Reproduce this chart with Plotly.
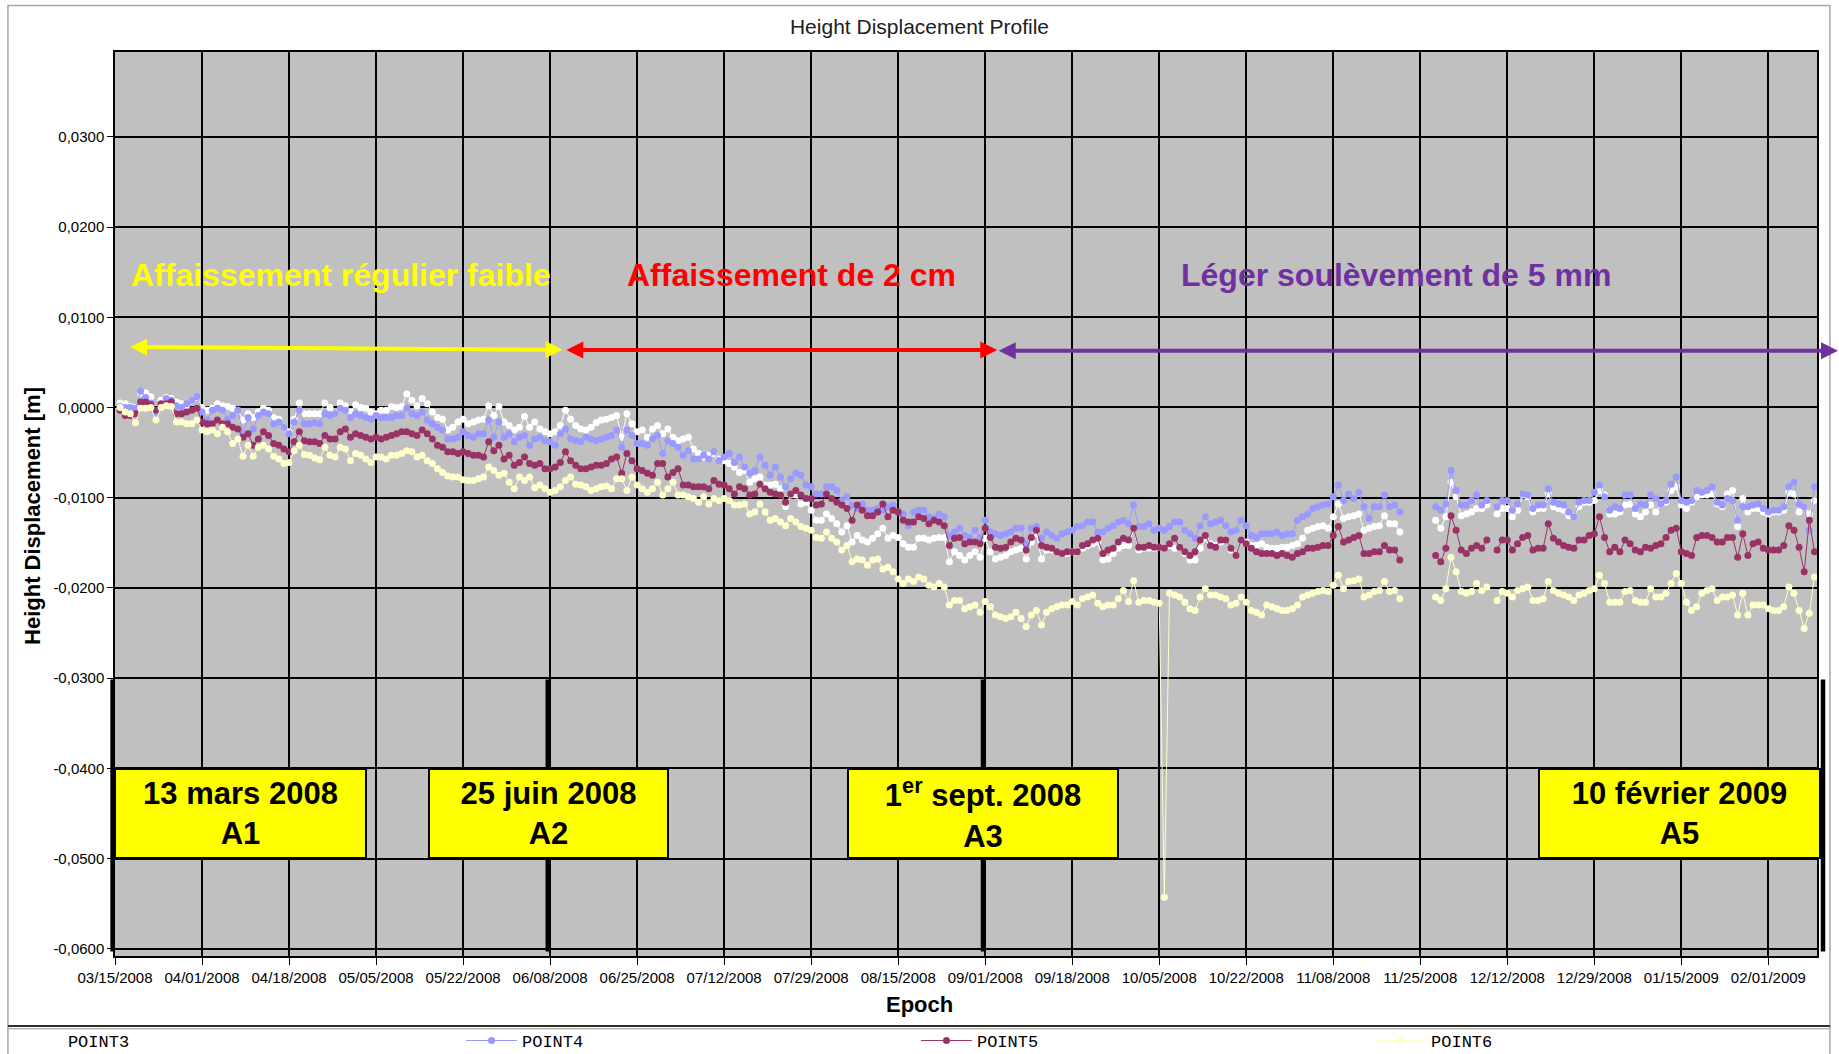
import pandas as pd
import plotly.graph_objects as go

START = pd.Timestamp("2008-03-15")
AXIS_END = pd.Timestamp("2009-02-10 12:00")
AXIS_DAYS = (AXIS_END - START) / pd.Timedelta(days=1)

# Daily epochs, day 1 = 2008-03-16 ... day 332 = 2009-02-10
N_DAYS = 332
GAP_NOV = [None] * 6   # 2008-11-22 .. 2008-11-27: no solution
GAP_DEC = [None]       # 2008-12-08: no solution

# Height displacement in millimetres
POINT3_MM = [
    0.5, 0.4, 0.1, 0.0, 1.6, 1.6, 1.2, -0.7, 0.8, 1.1,
    1.0, 0.6, 0.4, 0.2, 0.8, 1.1, 0.0, -0.3, -0.1, 0.4,
    0.2, 0.1, -0.1, -0.3, -1.4, -0.7, -1.1, -0.5, -0.1, -0.3,
    -1.1, -1.3, -2.2, -2.7, -1.3, 0.5, -0.7, -0.7, -0.7, -0.7,
    0.5, 0.0, -0.7, 0.5, 0.2, -0.5, 0.3, 0.0, -0.1, -0.5,
    -0.7, -0.3, -0.3, 0.1, 0.0, 0.1, 1.5, 0.8, 0.2, 1.0,
    0.4, -0.5, -1.1, -1.3, -2.5, -2.2, -1.6, -1.3, -1.8, -1.6,
    -1.4, -1.3, 0.2, -0.9, 0.1, -1.6, -2.0, -2.5, -2.2, -1.0,
    -2.2, -1.6, -2.4, -2.7, -2.9, -2.7, -2.0, -0.3, -1.3, -2.0,
    -2.4, -2.5, -2.2, -1.7, -1.4, -1.3, -1.1, -0.9, -3.3, -0.7,
    -1.8,
    -2.7, -2.5, -3.3, -2.4, -2.0, -2.9, -2.4, -3.3, -3.7, -3.5,
    -3.3, -4.6, -5.1, -5.5, -5.3, -5.1, -5.7, -5.9, -6.2, -6.6,
    -7.2, -7.0, -8.3, -7.9, -7.7, -8.6, -8.6, -8.5, -9.0, -11.0,
    -9.7, -9.7, -10.7, -10.5, -11.4, -12.5, -12.5, -11.8, -12.3, -12.9,
    -13.8, -13.1, -14.9, -14.2, -14.7, -14.9, -14.5, -14.0, -13.4, -14.5,
    -14.2, -14.4, -15.1, -15.5, -15.5, -14.5, -14.5, -14.7, -14.5, -14.4,
    -14.4, -17.1, -16.0, -16.4, -16.9, -16.4, -16.0, -16.6, -14.5, -16.0,
    -16.8, -16.6, -16.4, -16.0, -15.8, -15.6, -16.8, -14.9, -14.0, -16.8,
    -15.8, -15.8,
    -16.0, -16.2, -16.2, -16.0, -16.0, -15.6, -15.3, -15.1, -14.9, -16.9,
    -16.8, -16.2, -15.6, -15.3, -15.3, -13.4,
    -15.8, -15.6, -15.6, -15.6, -15.5, -15.6, -15.3, -15.6, -15.5, -16.2,
    -16.9, -16.9, -15.6, -14.5, -15.1, -15.3, -14.9, -14.7, -15.8, -16.4,
    -14.7, -14.9, -15.3, -15.3, -15.1, -15.5, -15.6, -15.6, -15.5, -15.5,
    -15.3, -15.1, -14.5, -13.6, -13.4, -13.2, -13.1, -13.4, -12.1, -10.7,
    -12.3, -12.1, -12.0, -11.8, -13.6, -13.4, -13.2, -13.1, -12.0, -12.9,
    -12.9, -13.8,
] + GAP_NOV + [
    -12.5, -13.4, -12.1, -8.3, -9.9, -12.0, -11.8, -11.6, -11.2, -11.2, -10.8,
] + GAP_DEC + [
    -11.8, -11.2, -11.2, -12.1, -11.4, -9.7, -9.9, -11.6, -11.2, -11.2,
    -9.6, -11.0, -11.2, -11.4, -12.0, -12.1, -11.0, -10.5, -10.5, -10.3,
    -9.2, -9.7, -11.8, -11.8, -11.6, -10.8, -10.7, -11.8, -12.1, -11.6,
    -10.8,
    -11.6, -10.7, -10.5, -9.2, -8.8, -10.8, -11.2, -10.5, -9.9, -9.7,
    -9.7, -9.6, -10.7, -11.0, -9.6, -9.2, -13.2, -10.1, -11.6, -11.2,
    -11.2, -11.6, -11.8, -11.6, -11.6, -11.4, -9.4, -9.6, -11.6, -11.0,
    -11.8, -10.3,
]

POINT4_MM = [
    0.1, 0.0, 0.0, -0.1, 1.8, 1.1, 0.5, -0.7, 0.3, 1.0,
    0.8, 0.2, 0.0, 0.4, 0.8, 1.2, -0.5, -1.4, -0.3, -0.1,
    -0.3, -1.3, -0.9, -0.3, -2.9, -1.1, -2.4, -0.9, -0.5, -0.7,
    -1.8, -1.6, -2.2, -2.9, -1.6, -0.3, -1.8, -1.8, -1.7, -1.8,
    -0.7, -0.9, -0.7, -0.1, -0.3, -1.1, -0.7, -0.9, -1.1, -1.3,
    -0.9, -1.1, -1.1, -1.1, -0.9, -0.9, -0.1, -0.7, -0.9, -0.5,
    -1.4, -1.8, -2.2, -2.5, -3.5, -3.5, -3.3, -2.7, -3.1, -3.3,
    -2.9, -2.9, -1.4, -3.3, -1.6, -3.3, -2.9, -3.8, -3.3, -3.1,
    -4.2, -3.5, -3.3, -3.7, -3.8, -4.2, -2.9, -2.4, -3.5, -3.7,
    -3.8, -3.3, -3.5, -3.7, -3.5, -3.3, -3.1, -2.5, -4.4, -2.5,
    -3.1,
    -4.0, -4.0, -4.2, -3.5, -3.1, -5.1, -3.7, -4.0, -4.4, -5.3,
    -4.8, -5.7, -5.7, -5.3, -5.7, -4.9, -5.9, -5.5, -5.1, -6.1,
    -5.5, -6.6, -7.3, -7.0, -5.5, -6.4, -7.5, -6.6, -7.7, -8.8,
    -7.9, -7.3, -7.5, -8.6, -8.8, -9.6, -9.6, -8.8, -8.8, -9.2,
    -10.3, -9.9, -10.8, -11.2, -10.7, -11.4, -11.4, -11.2, -11.4, -11.0,
    -10.8, -11.6, -11.8, -13.1, -11.6, -11.4, -11.4, -12.1, -12.3, -11.8,
    -12.1, -14.2, -13.8, -13.4, -14.2, -14.4, -13.6, -14.4, -12.5, -13.8,
    -14.0, -14.2, -14.0, -13.8, -13.4, -13.4, -15.1, -13.4, -13.2, -14.5,
    -13.8, -14.2,
    -14.5, -14.0, -13.8, -13.6, -13.2, -13.1, -12.7, -12.7, -13.8, -13.8,
    -13.4, -13.1, -12.7, -12.5, -12.9, -10.8,
    -13.2, -13.2, -12.9, -13.6, -13.4, -13.6, -13.2, -12.7, -12.7, -13.6,
    -14.0, -14.5, -13.1, -12.1, -12.9, -12.7, -12.5, -13.1, -13.8, -13.6,
    -12.5, -13.1, -14.2, -14.4, -14.0, -14.0, -14.0, -13.8, -14.2, -14.0,
    -14.0, -12.5, -12.1, -11.8, -11.2, -11.0, -10.8, -10.7, -9.9, -8.6,
    -10.3, -9.6, -10.1, -9.4, -11.0, -12.3, -11.0, -11.0, -9.7, -11.0,
    -10.8, -11.6,
] + GAP_NOV + [
    -11.0, -11.4, -10.7, -7.0, -9.2, -10.8, -10.8, -10.3, -9.7, -10.8, -10.3,
] + GAP_DEC + [
    -11.0, -10.3, -10.3, -11.4, -10.7, -9.6, -9.7, -11.2, -10.8, -10.8,
    -9.0, -10.5, -10.7, -10.8, -11.6, -12.1, -10.5, -10.3, -10.3, -9.4,
    -8.6, -9.9, -11.4, -11.0, -11.2, -9.7, -9.7, -11.2, -10.7, -10.8,
    -9.7,
    -10.1, -10.7, -10.3, -8.5, -7.7, -10.3, -10.5, -10.3, -9.2, -9.4,
    -9.2, -8.8, -10.5, -10.8, -10.1, -10.3, -12.5, -11.0, -11.0, -10.8,
    -10.7, -11.2, -11.6, -11.4, -11.4, -11.0, -8.8, -8.3, -10.7, -11.0,
    -13.6, -8.8,
]

POINT5_MM = [
    -0.3, -0.9, -0.9, -0.7, 0.6, 0.6, 0.3, -0.3, 0.4, 0.4,
    0.6, -0.7, -0.7, -0.5, -0.3, -0.1, -1.6, -1.8, -1.8, -1.4,
    -1.8, -1.8, -2.2, -2.4, -3.3, -2.9, -4.2, -3.5, -2.7, -3.1,
    -4.0, -4.2, -4.6, -4.9, -3.8, -2.7, -3.7, -3.8, -3.8, -4.0,
    -3.1, -3.5, -3.5, -2.7, -2.4, -3.3, -2.9, -3.1, -3.3, -3.5,
    -3.3, -3.5, -3.3, -3.1, -2.9, -2.7, -2.7, -2.9, -3.1, -2.5,
    -2.9, -3.5, -4.2, -4.4, -4.9, -4.9, -5.1, -4.9, -5.1, -5.3,
    -5.3, -5.5, -3.8, -4.8, -4.2, -5.7, -5.3, -6.4, -6.1, -5.5,
    -6.2, -6.4, -6.2, -6.8, -6.8, -6.6, -6.1, -4.9, -5.9, -6.4,
    -6.8, -6.8, -6.6, -6.4, -6.4, -6.2, -5.7, -5.5, -7.3, -5.1,
    -5.9,
    -6.8, -7.0, -7.3, -7.5, -6.2, -6.2, -7.7, -7.2, -6.8, -8.6,
    -8.6, -8.8, -8.8, -8.8, -9.0, -8.1, -8.5, -8.6, -9.0, -9.6,
    -8.8, -9.0, -9.7, -9.6, -8.5, -9.0, -9.4, -9.6, -9.7, -10.5,
    -9.6, -9.2, -9.7, -10.1, -10.1, -10.8, -10.7, -9.6, -10.1, -10.5,
    -10.8, -11.2, -12.5, -10.8, -11.4, -12.0, -12.0, -11.6, -10.7, -12.1,
    -11.4, -11.6, -12.5, -12.7, -12.7, -12.1, -12.3, -12.9, -12.5, -12.7,
    -13.1, -15.3, -14.5, -14.4, -15.1, -14.9, -14.9, -15.1, -13.4, -14.4,
    -15.5, -15.6, -15.5, -14.9, -14.5, -14.7, -15.8, -14.4, -13.6, -15.3,
    -15.5, -15.6,
    -16.0, -16.2, -16.0, -16.0, -16.0, -15.3, -15.1, -14.7, -14.5, -16.2,
    -15.8, -15.6, -14.9, -14.5, -14.7, -13.4,
    -15.5, -15.5, -15.3, -15.5, -15.5, -15.6, -15.1, -14.5, -15.5, -16.0,
    -16.4, -16.0, -14.7, -14.2, -15.3, -15.5, -14.7, -14.7, -15.6, -16.4,
    -14.7, -15.1, -15.6, -16.0, -16.2, -16.2, -16.2, -16.4, -16.2, -16.4,
    -16.6, -16.2, -16.0, -15.6, -15.6, -15.5, -15.3, -15.3, -14.2, -13.2,
    -14.9, -14.7, -14.4, -14.2, -16.2, -16.2, -16.0, -16.0, -15.3, -15.8,
    -15.8, -16.9,
] + GAP_NOV + [
    -16.4, -17.1, -15.6, -12.0, -13.6, -15.8, -16.2, -15.6, -15.3, -15.6, -14.7,
] + GAP_DEC + [
    -15.8, -14.7, -14.7, -15.8, -15.1, -14.4, -14.2, -15.8, -15.6, -15.6,
    -12.9, -14.5, -14.9, -15.3, -15.5, -15.6, -14.7, -14.7, -14.2, -14.0,
    -12.1, -14.4, -16.0, -15.5, -16.0, -14.7, -15.1, -15.8, -16.0, -15.5,
    -15.6,
    -15.3, -15.1, -14.4, -13.6, -13.4, -16.0, -16.2, -16.4, -14.4, -14.2,
    -14.2, -14.4, -14.9, -14.9, -14.4, -14.4, -16.6, -14.0, -16.4, -15.1,
    -14.9, -15.6, -15.8, -15.8, -15.8, -15.3, -13.1, -13.6, -15.5, -18.2,
    -12.5, -16.0,
]

POINT6_MM = [
    0.0, -0.5, -0.7, -1.7, -0.1, -0.1, 0.0, -1.4, 0.0, 0.2,
    0.1, -1.6, -1.6, -1.8, -1.8, -1.4, -2.5, -2.7, -2.5, -2.9,
    -2.2, -2.7, -4.0, -3.5, -5.4, -4.2, -5.4, -4.4, -4.2, -4.6,
    -5.4, -5.7, -6.2, -6.1, -4.8, -4.2, -5.2, -5.3, -5.6, -5.8,
    -4.4, -5.3, -5.5, -4.4, -4.6, -5.9, -5.1, -5.3, -5.7, -6.1,
    -5.5, -5.5, -5.7, -5.3, -5.3, -5.1, -4.8, -4.9, -5.5, -5.3,
    -5.9, -6.2, -6.8, -7.2, -7.6, -7.7, -7.7, -8.0, -8.1, -8.1,
    -7.9, -7.7, -6.6, -7.0, -7.5, -7.3, -8.3, -9.0, -7.7, -8.1,
    -7.7, -8.9, -8.6, -9.0, -9.4, -9.2, -8.8, -8.1, -7.7, -8.5,
    -8.6, -8.8, -9.2, -9.0, -8.8, -8.7, -9.0, -7.9, -7.9, -9.2,
    -7.7,
    -8.6, -9.0, -9.4, -9.0, -8.3, -9.7, -9.0, -8.3, -9.7, -9.7,
    -9.9, -10.1, -10.5, -9.9, -10.7, -10.1, -10.3, -10.1, -10.3, -10.8,
    -10.8, -10.7, -11.8, -11.6, -10.7, -11.6, -12.5, -12.3, -12.7, -13.1,
    -12.3, -12.7, -13.2, -13.4, -13.6, -14.4, -14.5, -13.8, -14.5, -14.9,
    -15.8, -15.3, -17.1, -16.8, -16.9, -17.5, -16.9, -16.8, -17.9, -17.7,
    -18.2, -19.0, -19.5, -19.0, -19.3, -18.8, -19.0, -19.7, -19.9, -19.5,
    -19.9, -21.9, -21.4, -21.4, -22.3, -22.1, -21.9, -22.7, -21.5, -22.1,
    -23.0, -23.2, -23.4, -23.2, -22.7, -23.4, -24.3, -23.0, -22.5, -24.1,
    -22.7, -22.3,
    -22.1, -21.9, -21.9, -21.5, -21.9, -21.2, -21.0, -20.8, -21.7, -22.1,
    -21.9, -21.9, -21.2, -20.3, -21.5, -19.2,
    -21.6, -21.4, -21.4, -21.6, -21.7, -54.3, -20.6, -20.8, -21.0, -21.6,
    -22.3, -22.5, -21.0, -20.1, -20.8, -20.8, -21.0, -21.2, -21.9, -21.7,
    -21.0, -21.6, -22.5, -22.7, -23.0, -21.9, -22.1, -22.3, -22.5, -22.5,
    -22.3, -21.9, -21.0, -20.8, -20.6, -20.4, -20.3, -20.4, -19.7, -18.6,
    -20.1, -19.3, -19.2, -19.0, -21.0, -20.8, -20.4, -20.3, -19.3, -20.4,
    -20.3, -21.2,
] + GAP_NOV + [
    -21.0, -21.4, -20.1, -16.6, -18.2, -20.4, -20.6, -20.4, -19.5, -20.3, -19.9,
] + GAP_DEC + [
    -21.4, -20.4, -20.6, -21.0, -20.3, -20.1, -19.9, -21.4, -21.4, -21.2,
    -19.3, -20.3, -20.6, -20.8, -21.0, -21.4, -20.8, -20.6, -20.3, -20.1,
    -18.6, -19.5, -21.6, -21.6, -21.6, -20.4, -20.3, -21.4, -21.6, -21.6,
    -20.1,
    -21.0, -21.0, -20.6, -19.5, -18.4, -19.5, -21.6, -22.5, -22.1, -20.6,
    -20.3, -20.1, -21.4, -21.0, -21.0, -20.8, -23.0, -20.6, -23.0, -21.9,
    -21.9, -21.9, -22.3, -22.5, -22.5, -22.1, -19.9, -20.6, -22.5, -24.5,
    -22.8, -18.8,
]

# name, values, colour, legend slot position (fraction of plot width)
SERIES = [
    ("POINT3", POINT3_MM, "#FFFFFF", -0.0635),
    ("POINT4", POINT4_MM, "#9999FF", 0.2033),
    ("POINT5", POINT5_MM, "#993366", 0.4706),
    ("POINT6", POINT6_MM, "#FFFFCC", 0.7374),
]

Y_TICK_VALUES = [0.03, 0.02, 0.01, 0.0, -0.01, -0.02, -0.03, -0.04, -0.05, -0.06]
Y_TICK_LABELS = ["0,0300", "0,0200", "0,0100", "0,0000", "-0,0100", "-0,0200",
                 "-0,0300", "-0,0400", "-0,0500", "-0,0600"]

# Period headings: text, colour, centre day, arrow start/end day, arrow y start/end
PERIODS = [
    ("Affaissement régulier faible", "#FFFF00", 44.2, 2.66, 87.44, 0.0067, 0.0064),
    ("Affaissement de 2 cm", "#FF0000", 132.1, 87.87, 172.35, 0.00637, 0.00637),
    ("Léger soulèvement de 5 mm", "#7030A0", 250.3, 172.35, 336.6, 0.0063, 0.0063),
]
PERIOD_TEXT_Y = 0.0147

# Acquisition milestones: label, box centre day, box width (px), bar day
MILESTONES = [
    ("13 mars 2008<br>A1", 24.6, 252, -0.47),
    ("25 juin 2008<br>A2", 84.6, 240, 84.55),
    ("1<sup>er</sup> sept. 2008<br>A3", 169.5, 271, 169.57),
    ("10 février 2009<br>A5", 305.6, 282, 333.67),
]


def day(d):
    return START + pd.Timedelta(days=d)


dates = [day(d) for d in range(1, N_DAYS + 1)]

SANS = "Liberation Sans, Arial, sans-serif"
MONO = "Liberation Mono, Courier New, monospace"

fig = go.Figure()
legend_layouts = {}
for i, (name, values, color, legend_x) in enumerate(SERIES):
    legend_id = "legend" if i == 0 else f"legend{i + 1}"
    fig.add_trace(go.Scatter(
        x=dates,
        y=[None if v is None else v / 1000.0 for v in values],
        name=name,
        mode="lines+markers",
        line=dict(color=color, width=1),
        marker=dict(color=color, size=7),
        connectgaps=False,
        legend=legend_id,
    ))
    legend_layouts[legend_id] = dict(
        orientation="h", x=legend_x, xanchor="left", y=-0.094, yanchor="middle",
        itemwidth=51, bgcolor="rgba(0,0,0,0)", itemclick=False,
        font=dict(family=MONO, size=17, color="black"),
    )

# Period headings with double-headed arrows
for text, color, xc, xa, xb, ya, yb in PERIODS:
    fig.add_annotation(
        x=day(xc), y=PERIOD_TEXT_Y, xref="x", yref="y", text=f"<b>{text}</b>",
        showarrow=False, font=dict(family=SANS, size=32, color=color),
    )
    fig.add_annotation(
        x=day(xb), y=yb, ax=day(xa), ay=ya, xref="x", yref="y", axref="x", ayref="y",
        text="", showarrow=True, arrowside="end+start",
        arrowhead=2, startarrowhead=2, arrowsize=0.85, startarrowsize=0.85,
        arrowwidth=4, arrowcolor=color, standoff=0, startstandoff=0,
    )

# Milestone bars (placed as a fraction of the date axis so edge bars stay visible)
for label, xc, w, xbar in MILESTONES:
    fig.add_annotation(
        x=xbar / AXIS_DAYS, y=-0.0603, xref="paper", yref="y",
        ax=0, ay=-0.030, axref="pixel", ayref="y",
        text="", showarrow=True, arrowhead=0, arrowwidth=4.5, arrowcolor="black",
        standoff=0,
    )
for label, xc, w, xbar in MILESTONES:
    fig.add_annotation(
        x=day(xc), y=-0.045, xref="x", yref="y", text=f"<b>{label}</b>",
        showarrow=False, width=w - 3, height=87, borderpad=0,
        bgcolor="#FFFF00", bordercolor="black", borderwidth=2,
        align="center", valign="middle",
        font=dict(family=SANS, size=31, color="black"),
    )

# Axis titles
fig.add_annotation(
    x=-0.0488, y=0.4867, xref="paper", yref="paper", xanchor="center", yanchor="middle",
    text="<b>Height Displacement [m]</b>",
    textangle=-90, showarrow=False, font=dict(family=SANS, size=22, color="black"),
)
fig.add_annotation(
    x=0.4727, y=-0.0542, xref="paper", yref="paper", xanchor="center", yanchor="middle",
    text="<b>Epoch</b>",
    showarrow=False, font=dict(family=SANS, size=22, color="black"),
)

# Outer frame and legend separator
fig.add_shape(type="rect", xref="paper", yref="paper",
              x0=-0.0629, x1=1.0076, y0=-0.12, y1=1.0515,
              line=dict(color="#A8A8A0", width=1.5), fillcolor="rgba(0,0,0,0)")
fig.add_shape(type="line", xref="paper", yref="paper",
              x0=-0.0629, x1=1.0076, y0=-0.0774, y1=-0.0774,
              line=dict(color="#303030", width=2))
fig.add_shape(type="line", xref="paper", yref="paper",
              x0=-0.0629, x1=1.0076, y0=-0.0806, y1=-0.0806,
              line=dict(color="#B8B8B0", width=1.5))

fig.update_layout(
    width=1839, height=1054,
    margin=dict(l=115, r=22, t=52, b=98, autoexpand=False),
    paper_bgcolor="white", plot_bgcolor="#C0C0C0",
    title=dict(text="Height Displacement Profile", x=0.5, xanchor="center",
               y=0.9744, yanchor="middle",
               font=dict(family=SANS, size=21, color="#202020")),
    showlegend=True,
    xaxis=dict(
        type="date", range=[START, AXIS_END],
        tick0=START, dtick=17 * 86400000, tickformat="%m/%d/%Y",
        showgrid=True, gridcolor="black", gridwidth=1.5,
        showline=True, linecolor="black", linewidth=1.5, mirror=True,
        ticks="outside", ticklen=7, tickcolor="black", tickwidth=1,
        tickfont=dict(family=SANS, size=15, color="black"),
        zeroline=False,
    ),
    yaxis=dict(
        range=[-0.0608, 0.0394],
        tickmode="array", tickvals=Y_TICK_VALUES, ticktext=Y_TICK_LABELS,
        showgrid=True, gridcolor="black", gridwidth=1.5,
        showline=True, linecolor="black", linewidth=1.5, mirror=True,
        ticks="outside", ticklen=6, tickcolor="black", tickwidth=1,
        tickfont=dict(family=SANS, size=15, color="black"),
        zeroline=True, zerolinecolor="black", zerolinewidth=1.5,
    ),
    **legend_layouts,
)

fig.write_html("out.html")
